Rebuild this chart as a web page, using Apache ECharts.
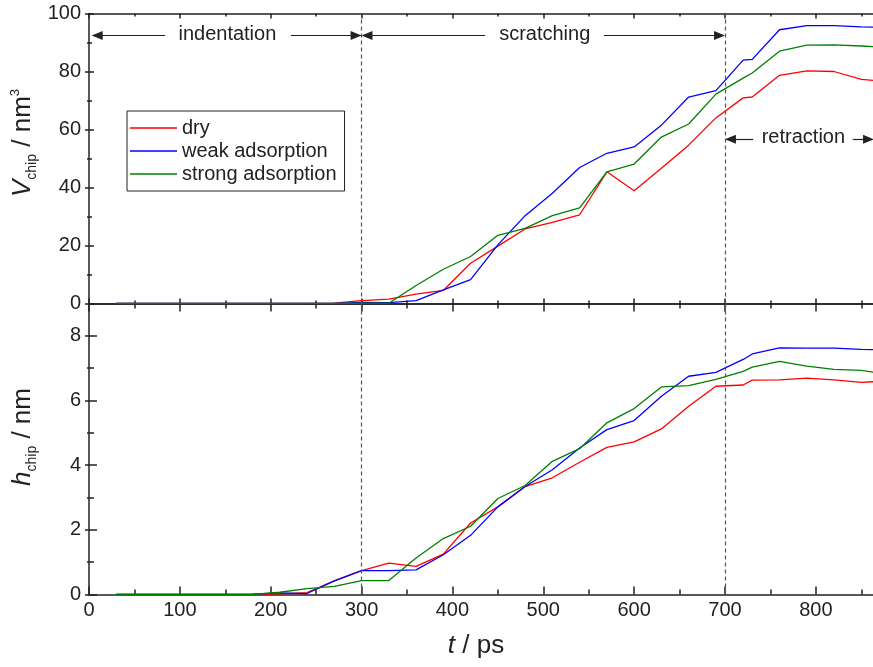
<!DOCTYPE html>
<html><head><meta charset="utf-8">
<script src="https://cdn.jsdelivr.net/npm/echarts@6/dist/echarts.min.js"></script>
<style>html,body{margin:0;padding:0;background:#fff}#c{width:873px;height:667px}</style>
</head><body><div id="c"></div>
<script>
// ---- data ----
const times = [30,60,90,120,150,180,210,240,270,300,330,360,390,420,450,480,510,540,570,600,630,660,690,720,730,760,790,820,850,870];
const vDry    = [0,0,0,0,0,0,0,0, 0.1,1.0,1.5,3.2,4.5,13.9,19.8,25.7,28.0,30.6,45.4,38.9,46.6,54.6,64.0,70.9,71.2,78.7,80.2,80.0,77.3,76.7];
const vWeak   = [0,0,0,0,0,0,0,0, 0,0.4,0.3,1.0,4.7,8.2,20.2,30.3,38.0,46.9,51.8,54.0,61.5,71.2,73.4,83.9,84.2,94.4,95.8,95.8,95.4,95.2];
const vStrong = [0,0,0,0,0,0,0,0, 0,0.1,0.1,6.2,11.8,16.2,23.5,25.9,30.3,33.0,45.4,48.1,57.4,61.9,72.2,77.7,79.5,87.0,89.1,89.2,88.8,88.5];
const hDry    = [0,0,0,0,0,0, 0.02,0.06,0.42,0.74,0.97,0.87,1.25,2.21,2.71,3.34,3.61,4.09,4.55,4.72,5.12,5.82,6.44,6.48,6.63,6.64,6.69,6.64,6.56,6.59];
const hWeak   = [0,0,0,0,0,0.01, 0.05,0.03,0.42,0.74,0.74,0.76,1.23,1.83,2.71,3.34,3.86,4.53,5.10,5.38,6.13,6.75,6.87,7.27,7.44,7.63,7.62,7.62,7.58,7.57];
const hStrong = [0,0,0,0,0,0, 0.07,0.18,0.25,0.43,0.43,1.13,1.73,2.11,2.97,3.37,4.12,4.51,5.31,5.75,6.42,6.46,6.65,6.90,7.03,7.21,7.06,6.96,6.93,6.85];
const seriesNames = ['dry','weak adsorption','strong adsorption'];
const xTicks = {min:0, max:900, interval:100};
const vTicks = {min:0, max:100, interval:20};
const hTicks = {min:0, max:9, interval:2};
const phases = ['indentation','scratching','retraction'];

// ---- style ----
const FONT = "'Liberation Sans', Arial, sans-serif";
const AX = '#222';
const colors = ['#ff0000','#0000ff','#008000'];

function xAx(grid, pos, tickLen, minorLen, labels) {
  return {
    type:'value', gridIndex:grid, position:pos, min:xTicks.min, max:xTicks.max, interval:xTicks.interval,
    axisLine:{show:true, onZero:false, lineStyle:{color:AX, width:1.5}},
    axisTick:{show:true, inside:true, length:tickLen, lineStyle:{color:AX, width:1.5}},
    minorTick:{show:true, splitNumber:2, length:minorLen, lineStyle:{color:AX, width:1.5}},
    axisLabel:{show:labels, fontSize:20, color:AX, fontFamily:FONT, margin:6},
    splitLine:{show:false}, minorSplitLine:{show:false}
  };
}
function yAx(grid, ext, interval, inside, tickLen, opts) {
  return Object.assign({
    type:'value', gridIndex:grid, position:'left', min:ext.min, max:ext.max, interval:interval,
    axisLine:{show:false, onZero:false, lineStyle:{color:AX, width:1.5}},
    axisTick:{show:true, inside:inside, length:tickLen, lineStyle:{color:AX, width:1.5}},
    axisLabel:{show:false}, splitLine:{show:false}
  }, opts||{});
}

const xAxis = [
  xAx(0,'bottom',5,3,false),
  xAx(0,'top',5,3,false),
  xAx(1,'bottom',8,5,true),
  xAx(1,'top',8,5,false)
];
const yAxis = [
  yAx(0, vTicks, vTicks.interval, true, 5, {
    axisLine:{show:true, onZero:false, lineStyle:{color:AX, width:1.5}},
    minorTick:{show:true, splitNumber:2, length:3, lineStyle:{color:AX, width:1.5}},
    axisLabel:{show:true, fontSize:20, color:AX, fontFamily:FONT, margin:8}
  }),
  yAx(0, vTicks, vTicks.interval, false, 4, {
    minorTick:{show:true, splitNumber:2, length:2, lineStyle:{color:AX, width:1.5}}
  }),
  yAx(1, hTicks, hTicks.interval, true, 8, {
    axisLine:{show:true, onZero:false, lineStyle:{color:AX, width:1.5}},
    axisLabel:{show:true, showMaxLabel:false, fontSize:20, color:AX, fontFamily:FONT, margin:8}
  }),
  yAx(1, hTicks, 1, true, 5),
  yAx(1, hTicks, hTicks.interval, false, 4),
  yAx(1, hTicks, 1, false, 2)
];

const dashed = {
  silent:true, symbol:['none','none'], label:{show:false}, animation:false,
  lineStyle:{type:[4,3], color:'#555', width:1.2},
  data:[{xAxis:300},{xAxis:700}]
};
const ARW = [9,11];
const AY = 92.4, RY = 56.6;
function seg(x1, x2, y, arrowAtStart) {
  return [
    {coord:[x1,y], symbol: arrowAtStart ? 'triangle' : 'none', symbolSize:ARW},
    {coord:[x2,y], symbol: arrowAtStart ? 'none' : 'triangle', symbolSize:ARW}
  ];
}
const arrowLines = {
  silent:true, label:{show:false}, animation:false,
  lineStyle:{type:'solid', color:AX, width:1.2},
  data:[
    seg(9, 83.7, AY, true), seg(222.3, 294, AY, false),
    seg(306, 435.9, AY, true), seg(566.9, 694, AY, false),
    seg(706, 731, RY, true), seg(840.6, 858, RY, false)
  ]
};
const phaseLabels = {
  silent:true, symbol:'rect', symbolSize:1, animation:false,
  itemStyle:{color:'rgba(0,0,0,0)'},
  label:{show:true, position:'inside', formatter:p=>p.name, fontSize:20, color:AX, fontFamily:FONT},
  data:[
    {name:phases[0], coord:[152.3, 92.8]},
    {name:phases[1], coord:[501.6, 92.8]},
    {name:phases[2], coord:[786.3, 57.2]}
  ]
};

function line(name, xi, yi, vals, color, extra) {
  return Object.assign({
    type:'line', name:name, xAxisIndex:xi, yAxisIndex:yi,
    data: times.map((t,i)=>[t, vals[i]]),
    symbol:'none', showSymbol:false, animation:false,
    lineStyle:{color:color, width:1.3}, itemStyle:{color:color}
  }, extra||{});
}

const series = [
  line(seriesNames[0], 0, 0, vDry, colors[0], {markLine:dashed, markPoint:phaseLabels}),
  line(seriesNames[1], 0, 0, vWeak, colors[1], {markLine:arrowLines}),
  line(seriesNames[2], 0, 0, vStrong, colors[2]),
  line(seriesNames[0], 2, 2, hDry, colors[0], {markLine:dashed}),
  line(seriesNames[1], 2, 2, hWeak, colors[1]),
  line(seriesNames[2], 2, 2, hStrong, colors[2])
];

const titleRich = {
  i:{fontSize:26, fontStyle:'italic', fontFamily:FONT, lineHeight:30, verticalAlign:'top', fill:AX, color:AX},
  n:{fontSize:26, fontFamily:FONT, lineHeight:30, verticalAlign:'top', fill:AX, color:AX},
  s:{fontSize:14, fontFamily:FONT, lineHeight:6, verticalAlign:'bottom', fill:AX, color:AX},
  p:{fontSize:13, fontFamily:FONT, lineHeight:20, verticalAlign:'top', fill:AX, color:AX}
};
function tText(x, y, rot, txt) {
  return {type:'text', x:x, y:y, rotation:rot, silent:true,
    style:{text:txt, rich:titleRich, fill:AX, font:'26px '+FONT,
      align:'center', textAlign:'center', verticalAlign:'middle', textVerticalAlign:'middle'}};
}

const option = {
  animation:false,
  backgroundColor:'#fff',
  grid:[
    {left:89, top:13.5, width:817.7, height:290, outerBoundsMode:'none', containLabel:false},
    {left:89, top:303.5, width:817.7, height:291, outerBoundsMode:'none', containLabel:false}
  ],
  xAxis:xAxis, yAxis:yAxis, series:series,
  legend:{
    data:seriesNames.map(n=>({name:n, icon:'rect'})), orient:'vertical', left:127, top:111,
    padding:[7,8,7,3], itemGap:3, itemWidth:47, itemHeight:1.5, icon:'rect',
    backgroundColor:'#fff', borderColor:AX, borderWidth:1, borderRadius:0,
    textStyle:{fontSize:20, fontFamily:FONT, color:AX, lineHeight:20},
    selectedMode:false
  },
  graphic:[
    tText(24.4, 143, Math.PI/2, '{i|V}{s|chip}{n| / nm}{p|3}'),
    tText(24.4, 437, Math.PI/2, '{i|h}{s|chip}{n| / nm}'),
    tText(476, 648, 0, '{i|t}{n| / ps}')
  ]
};
const chart = echarts.init(document.getElementById('c'), null, {renderer:'canvas'});
chart.setOption(option);
</script>
</body></html>
